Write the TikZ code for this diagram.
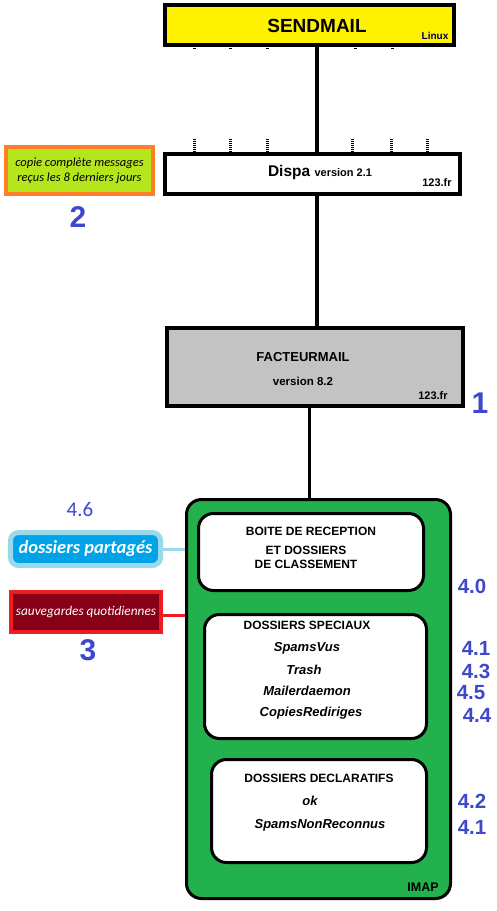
\documentclass[tikz,border=0pt]{standalone}
\usepackage{fontspec}
\setmainfont{Liberation Sans}
\newfontfamily\calibri{Carlito}
\usetikzlibrary{positioning}
\definecolor{mailyellow}{HTML}{FFF200}
\definecolor{lime}{HTML}{B5E61D}
\definecolor{mailorange}{HTML}{FF7F27}
\definecolor{mailgray}{HTML}{C3C3C3}
\definecolor{imapgreen}{HTML}{22B14C}
\definecolor{numblue}{HTML}{3F48CC}
\definecolor{skyblue}{HTML}{00A2E8}
\definecolor{paleblue}{HTML}{99D9EA}
\definecolor{darkred}{HTML}{880015}
\definecolor{mailred}{HTML}{ED1C24}
\tikzset{%
	block/.style    = {draw, line width=4pt, rectangle, inner sep=0pt},
	folder/.style   = {draw, line width=3pt, rectangle, rounded corners=15pt, fill=white, inner sep=0pt},
	bignum/.style   = {text=numblue, inner sep=0pt, font=\bfseries\fontsize{30}{30}\selectfont},
	subnum/.style   = {text=numblue, inner sep=0pt, font=\bfseries\fontsize{20.5}{20.5}\selectfont},
	title/.style    = {inner sep=0pt, align=center, font=\bfseries\fontsize{12}{14}\selectfont},
	entry/.style    = {inner sep=0pt, font=\bfseries\itshape\fontsize{13}{14}\selectfont},
	tag/.style      = {inner sep=0pt, font=\bfseries\fontsize{11}{11}\selectfont},
	spine/.style    = {line width=4pt}
}

\begin{document}
\begin{tikzpicture}[x=1pt,y=-1pt]
	\useasboundingbox (0,0) rectangle (497,911);
	\coordinate (axis) at (317,0);
	\coordinate (axisb) at (309,0);

	% serveurs
	\node[block, fill=mailyellow, minimum width=289pt, minimum height=40pt] (sendmail) at (309.5,25) {};
	\node[inner sep=0pt, font=\bfseries\fontsize{19}{19}\selectfont] (sendmailtxt) at (317,26) {SENDMAIL};
	\node[tag, text=black!70!blue, font=\bfseries\fontsize{10}{10}\selectfont] (linux) at (435,36) {Linux};

	\node[block, fill=white, minimum width=295pt, minimum height=40pt] (dispa) at (312.5,174) {};
	\node[inner sep=0pt] (dispatxt) at (320,172) {\bfseries\fontsize{15.5}{15.5}\selectfont Dispa \fontsize{11}{11}\selectfont version 2.1};
	\node[tag] (dispafr) at (437,183) {123.fr};

	\node[block, fill=mailgray, minimum width=296pt, minimum height=78pt] (facteur) at (315,367) {};
	\node[inner sep=0pt, font=\bfseries\fontsize{13}{13}\selectfont] (facteurtxt) at (303,357) {FACTEURMAIL};
	\node[inner sep=0pt, font=\bfseries\fontsize{11.5}{11.5}\selectfont] (facteurver) at (303,381) {version 8.2};
	\node[tag] (facteurfr) at (433,396) {123.fr};

	\draw[spine] (axis |- sendmail.south) -- (axis |- dispa.north);
	\draw[spine] (axis |- dispa.south) -- (axis |- facteur.north);
	\foreach \x in {194,230,267,352,391,427}
		\draw[line width=3pt, dash pattern=on 1pt off 1pt] (\x,139) -- (\x,152);
	\foreach \x in {194,230,267,355,392}
		\draw[line width=3pt] (\x,47.5) -- (\x,48.5);

	% boite imap
	\node[draw, line width=3pt, rectangle, rounded corners=15pt, fill=imapgreen, inner sep=0pt,
		minimum width=264pt, minimum height=399pt] (imap) at (318.5,699) {};
	\draw[line width=3pt] (axisb |- facteur.south) -- (axisb |- imap.north);
	\node[tag, font=\bfseries\fontsize{12.5}{12.5}\selectfont] (imaptxt) at (423,887) {IMAP};

	\node[folder, minimum width=225pt, minimum height=77pt] (reception) at (311,552) {};
	\node[title] (receptiontxt) at (311,531) {BOITE DE RECEPTION};
	\node[title] (classement) at (306,557) {ET DOSSIERS\\DE CLASSEMENT};

	\node[folder, minimum width=222pt, minimum height=124pt] (speciaux) at (315.5,676.5) {};
	\node[title] (speciauxtxt) at (307,625) {DOSSIERS SPECIAUX};
	\node[entry] (spamsvus) at (307,648) {SpamsVus};
	\node[entry] (trash) at (304,670) {Trash};
	\node[entry] (mailer) at (307,691) {Mailerdaemon};
	\node[entry] (copies) at (311,713) {CopiesRediriges};

	\node[folder, minimum width=215pt, minimum height=103pt] (declaratifs) at (319,811) {};
	\node[title] (declaratifstxt) at (319,778) {DOSSIERS DECLARATIFS};
	\node[entry] (ok) at (310,801) {ok};
	\node[entry] (nonreconnus) at (320,825) {SpamsNonReconnus};

	% numeros
	\node[subnum] (n40) at (472,586) {4.0};
	\node[subnum] (n41) at (476,648) {4.1};
	\node[subnum] (n43) at (476,671) {4.3};
	\node[subnum] (n45) at (471,693) {4.5};
	\node[subnum] (n44) at (477,715) {4.4};
	\node[subnum] (n42) at (472,801) {4.2};
	\node[subnum] (n41b) at (472,827) {4.1};
	\node[bignum] (n1) at (480,403) {1};
	\node[bignum] (n2) at (78,217) {2};
	\node[bignum] (n3) at (88,650) {3};
	\node[inner sep=0pt, text=numblue, font=\calibri\fontsize{21}{21}\selectfont] (n46) at (80,509) {4.6};

	% annexes
	\node[block, draw=mailorange, fill=lime, minimum width=147pt, minimum height=47pt, align=center,
		font=\calibri\itshape\fontsize{12.5}{15}\selectfont] (copie) at (79.5,170.5)
		{copie complète messages\\reçus les 8 derniers jours};
	\node[draw=paleblue, line width=5pt, rectangle, rounded corners=8pt, fill=skyblue, inner sep=0pt,
		minimum width=150pt, minimum height=33pt, text=white,
		font=\calibri\bfseries\itshape\fontsize{18.5}{18.5}\selectfont] (partages) at (85.5,549) {dossiers partagés};
	\node[block, draw=mailred, fill=darkred, minimum width=150pt, minimum height=40pt, text=white,
		font=\calibri\itshape\fontsize{13.3}{13.3}\selectfont] (sauvegardes) at (86,612) {sauvegardes quotidiennes};
	\draw[line width=3pt, paleblue] (partages.east) -- (partages.east -| imap.west);
	\draw[line width=3pt, mailred] (sauvegardes.east |- 0,615) -- (imap.west |- 0,615);
\end{tikzpicture}
\end{document}
